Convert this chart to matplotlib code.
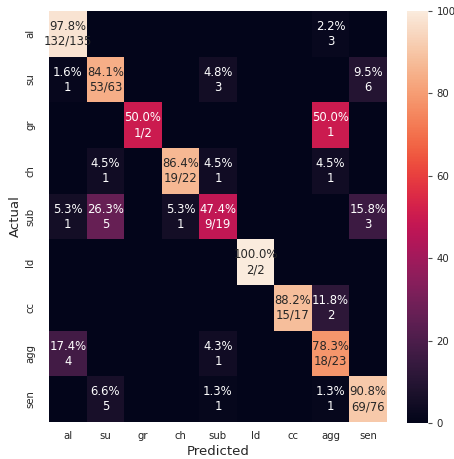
import numpy as np
import matplotlib
matplotlib.use("Agg")
import matplotlib.pyplot as plt
import seaborn as sns

sns.set_theme(style="darkgrid")
plt.rcParams['font.family'] = ['DejaVu Sans']

labels = ["al", "su", "gr", "ch", "sub", "ld", "cc", "agg", "sen"]

# confusion counts, one row per actual class (columns follow `labels`)
row_al  = [132, 0, 0, 0, 0, 0, 0, 3, 0]
row_su  = [1, 53, 0, 0, 3, 0, 0, 0, 6]
row_gr  = [0, 0, 1, 0, 0, 0, 0, 1, 0]
row_ch  = [0, 1, 0, 19, 1, 0, 0, 1, 0]
row_sub = [1, 5, 0, 1, 9, 0, 0, 0, 3]
row_ld  = [0, 0, 0, 0, 0, 2, 0, 0, 0]
row_cc  = [0, 0, 0, 0, 0, 0, 15, 2, 0]
row_agg = [4, 0, 0, 0, 1, 0, 0, 18, 0]
row_sen = [0, 5, 0, 0, 1, 0, 0, 1, 69]

counts = np.array([row_al, row_su, row_gr, row_ch, row_sub,
                   row_ld, row_cc, row_agg, row_sen])
totals = counts.sum(axis=1, keepdims=True)
percent = counts / totals * 100

annot = np.empty(counts.shape, dtype=object)
for i in range(counts.shape[0]):
    for j in range(counts.shape[1]):
        c = counts[i, j]
        if c == 0:
            annot[i, j] = ""
        elif i == j:
            annot[i, j] = f"{percent[i, j]:.1f}%\n{c}/{totals[i, 0]}"
        else:
            annot[i, j] = f"{percent[i, j]:.1f}%\n{c}"

fig = plt.figure(figsize=(4.54, 4.59), dpi=100)
ax = fig.add_axes([0.108, 0.0806, 0.744, 0.8954])
cax = fig.add_axes([0.896, 0.0785, 0.046, 0.8975])

sns.heatmap(percent, annot=annot, fmt="", cmap="rocket", vmin=0, vmax=100,
            ax=ax, cbar_ax=cax, annot_kws={"fontsize": 8.4},
            xticklabels=labels, yticklabels=labels)

ax.set_xlabel("Predicted", fontsize=9.5, labelpad=3)
ax.set_ylabel("Actual", fontsize=9.5, labelpad=2)
ax.tick_params(axis="x", labelsize=7.3, length=0, pad=6.5)
ax.tick_params(axis="y", labelsize=7.3, length=0, pad=10)
plt.setp(ax.get_yticklabels(), rotation=90, va="center")
plt.setp(ax.get_xticklabels(), rotation=0)
cax.tick_params(labelsize=7.3, length=3, width=0.8, color="0.3", pad=3.5,
                right=True)

fig.savefig("out.png", dpi=100)
